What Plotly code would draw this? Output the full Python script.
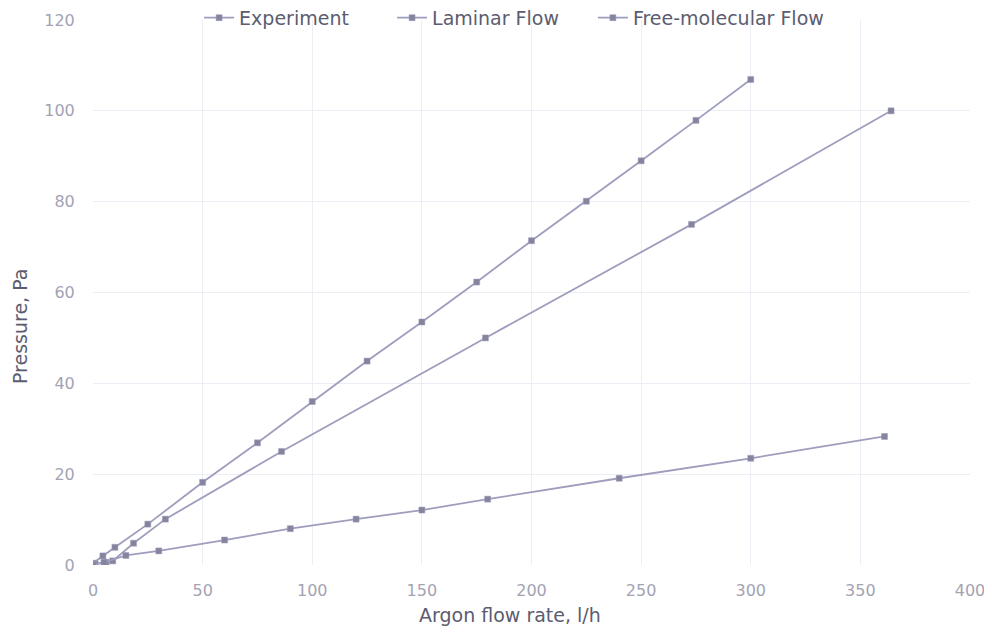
import plotly.graph_objects as go

exp_x = [0, 4.5, 10, 25, 50, 75, 100, 125, 150, 175, 200, 225, 250, 275, 300]
exp_y = [0.4, 2, 3.9, 9, 18.2, 26.9, 36, 44.9, 53.5, 62.3, 71.4, 80.1, 89, 97.9, 106.9]

lam_x = [1, 6, 9, 18.5, 33, 86, 179, 273, 364]
lam_y = [0.2, 0.6, 0.9, 4.8, 10.1, 25, 50, 75, 100]

fm_x = [0, 5, 15, 30, 60, 90, 120, 150, 180, 240, 300, 361]
fm_y = [0, 0.6, 2.1, 3.1, 5.5, 8.0, 10.1, 12.1, 14.5, 19.1, 23.5, 28.3]

x_ticks = [0, 50, 100, 150, 200, 250, 300, 350, 400]
y_ticks = [0, 20, 40, 60, 80, 100, 120]

series = [("Experiment", exp_x, exp_y, "legend", 0.121),
          ("Laminar Flow", lam_x, lam_y, "legend2", 0.341),
          ("Free-molecular Flow", fm_x, fm_y, "legend3", 0.570)]

FONT = "DejaVu Sans"

fig = go.Figure()
legends = {}
for name, xs, ys, lg, lx in series:
    fig.add_trace(go.Scatter(
        x=xs, y=ys, name=name, mode="lines+markers", legend=lg,
        line=dict(color="#9e9dbd", width=1.8),
        marker=dict(symbol="square", size=6, color="#85849e",
                    line=dict(color="#9e9dbd", width=0.5)),
    ))
    legends[lg] = dict(orientation="h", x=lx, y=1.004, xanchor="left", yanchor="middle",
                       font=dict(family=FONT, size=19, color="#5c5c70"),
                       bgcolor="rgba(0,0,0,0)")

axis_common = dict(
    showgrid=True, gridcolor="#eceef5", gridwidth=1, zeroline=False,
    showline=False, ticks="outside", tickcolor="rgba(0,0,0,0)",
    tickfont=dict(family=FONT, size=16, color="#a3a3b3"),
)

fig.update_layout(
    width=992, height=634,
    paper_bgcolor="white", plot_bgcolor="white",
    margin=dict(l=85, r=30, t=12, b=77, autoexpand=False),
    font=dict(family=FONT, color="#5c5c70"),
    showlegend=True,
    xaxis=dict(range=[0, 400], tickvals=x_ticks, ticklen=11, **axis_common),
    yaxis=dict(range=[0, 120], tickvals=y_ticks, ticklen=14, **axis_common),
    annotations=[
        dict(text="Argon flow rate, l/h", xref="paper", yref="paper", x=0.4755, y=-0.091,
             xanchor="center", yanchor="middle", showarrow=False,
             font=dict(family=FONT, size=19, color="#5c5c70")),
        dict(text="Pressure, Pa", xref="paper", yref="paper", x=-0.083, y=0.437,
             xanchor="center", yanchor="middle", showarrow=False, textangle=-90,
             font=dict(family=FONT, size=19, color="#5c5c70")),
    ],
    **legends,
)

fig.write_html("out.html")
